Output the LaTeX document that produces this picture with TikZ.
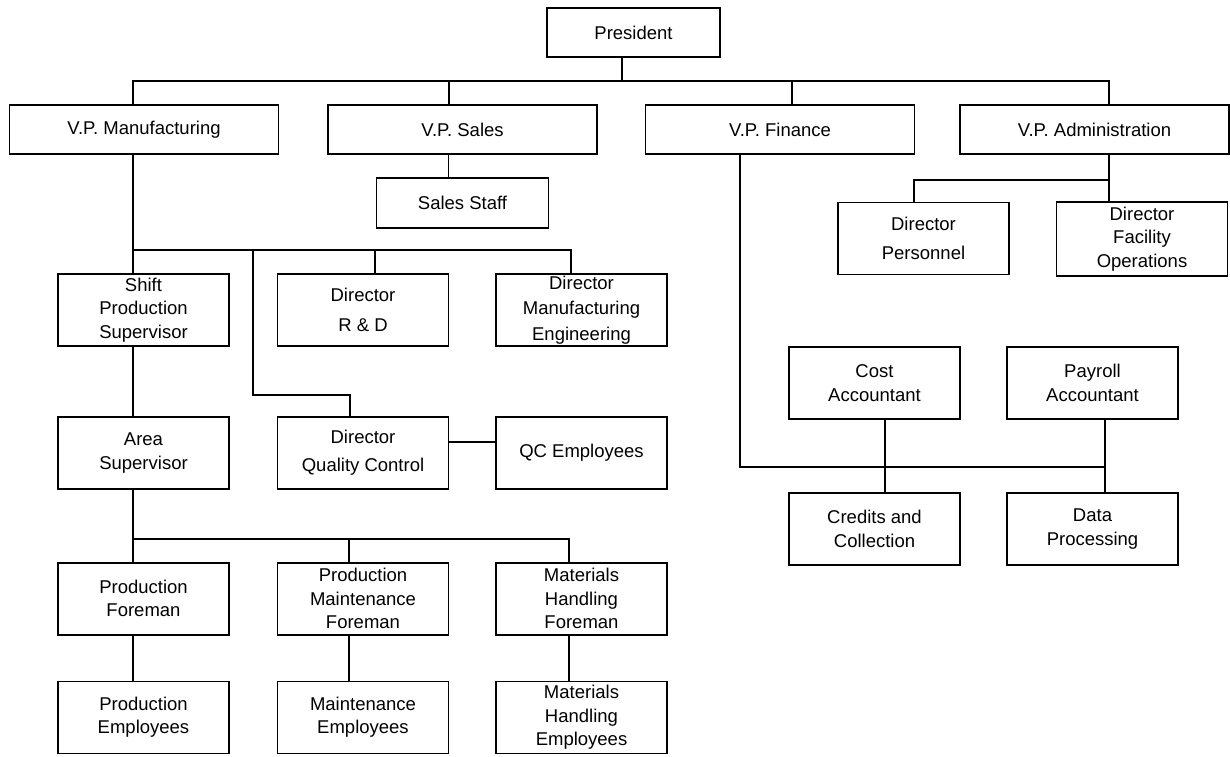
\documentclass[tikz,border=0pt]{standalone}
\usepackage{fontspec}
\setmainfont{Liberation Sans}
\usetikzlibrary{positioning}

\begin{document}
\begin{tikzpicture}[
		x=1pt, y=-1pt,
		node distance=69pt,
		orgbox/.style={rectangle, draw, line width=1.8pt, minimum width=171pt,
			minimum height=72pt, inner sep=0pt, align=center,
			font=\fontsize{18.5}{23.5}\selectfont},
		vpbox/.style={orgbox, minimum width=269pt, minimum height=49pt},
		link/.style={line width=1.8pt}
	]
		\useasboundingbox (0,0) rectangle (1230,756);
		\node[vpbox, minimum width=173pt] (pres) at (633.5,32.5) {President};
		\node[vpbox] (vpman) at (144,129.5) {V.P. Manufacturing};
		\node[vpbox] (vpsal) at (462.5,129.5) {V.P. Sales};
		\node[vpbox] (vpfin) at (780,129.5) {V.P. Finance};
		\node[vpbox] (vpadm) at (1094.5,129.5) {V.P. Administration};
		\node[orgbox, minimum width=172pt, minimum height=50pt, below=22pt of vpsal] (sales) {Sales Staff};
		
		\node[orgbox] (shift) at (143.5,310) {Shift\\Production\\Supervisor};
		\node[orgbox] (dirrd) at (363,310) {Director\\[7pt]R \& D};
		\node[orgbox] (direng) at (581.5,310) {Director\\[2pt]Manufacturing\\[2pt]Engineering};
		\node[orgbox, below=of shift] (area) {Area\\Supervisor};
		\node[orgbox, below=of dirrd] (dirqc) {Director\\[5pt]Quality Control};
		\node[orgbox, below=of direng] (qcemp) {QC Employees};
		\node[orgbox, below=72pt of area] (prodfor) {Production\\Foreman};
		\node[orgbox, below=72pt of dirqc] (maintfor) {Production\\Maintenance\\Foreman};
		\node[orgbox, below=72pt of qcemp] (matfor) {Materials\\Handling\\Foreman};
		\node[orgbox, below=45pt of prodfor] (prodemp) {Production\\Employees};
		\node[orgbox, below=45pt of maintfor] (maintemp) {Maintenance\\Employees};
		\node[orgbox, below=45pt of matfor] (matemp) {Materials\\Handling\\Employees};
		
		\node[orgbox] (dirper) at (923.5,238.5) {Director\\[5pt]Personnel};
		\node[orgbox, minimum height=74pt] (dirfac) at (1142,239) {Director\\Facility\\Operations};
		\node[orgbox] (cost) at (874.5,383) {Cost\\Accountant};
		\node[orgbox] (payroll) at (1092.5,383) {Payroll\\Accountant};
		\node[orgbox, below=72pt of cost] (credits) {Credits and\\Collection};
		\node[orgbox, below=72pt of payroll] (datap) {Data\\Processing};
		
		\draw[link] ([xshift=-11.5pt]pres.south) -- ++(0,23) -| ([xshift=-11pt]vpman.north);
		\draw[link] ([xshift=-11.5pt]pres.south) -- ++(0,23) -| ([xshift=-13.5pt]vpsal.north);
		\draw[link] ([xshift=-11.5pt]pres.south) -- ++(0,23) -| ([xshift=12pt]vpfin.north);
		\draw[link] ([xshift=-11.5pt]pres.south) -- ++(0,23) -| ([xshift=14.5pt]vpadm.north);
		\draw[link] ([xshift=-14pt]vpsal.south) -- ([xshift=-14pt]sales.north);
		
		\draw[link] ([xshift=-11pt]vpman.south) -- ([xshift=-10.5pt]shift.north);
		\draw[link] ([xshift=-11pt]vpman.south) -- ++(0,95) -| ([xshift=12pt]dirrd.north);
		\draw[link] ([xshift=-11pt]vpman.south) -- ++(0,95) -| ([xshift=-10.5pt]direng.north);
		\draw[link] ([xshift=-11pt]vpman.south) -- ++(0,95) -| ++(120,145) -| ([xshift=-13pt]dirqc.north);
		\draw[link] ([xshift=-10.5pt]shift.south) -- ([xshift=-10.5pt]area.north);
		\draw[link] ([yshift=11pt]dirqc.east) -- ([yshift=11pt]qcemp.west);
		\draw[link] ([xshift=-10.5pt]area.south) -- ([xshift=-10.5pt]prodfor.north);
		\draw[link] ([xshift=-10.5pt]area.south) -- ++(0,49) -| ([xshift=-14pt]maintfor.north);
		\draw[link] ([xshift=-10.5pt]area.south) -- ++(0,49) -| ([xshift=-12.5pt]matfor.north);
		\draw[link] ([xshift=-10.5pt]prodfor.south) -- ([xshift=-10.5pt]prodemp.north);
		\draw[link] ([xshift=-14pt]maintfor.south) -- ([xshift=-14pt]maintemp.north);
		\draw[link] ([xshift=-12.5pt]matfor.south) -- ([xshift=-12.5pt]matemp.north);
		
		\draw[link] ([xshift=14.5pt]vpadm.south) -- ++(0,25) -| ([xshift=-9.5pt]dirper.north);
		\draw[link] ([xshift=14.5pt]vpadm.south) -- ([xshift=-33pt]dirfac.north);
		\draw[link] ([xshift=-40pt]vpfin.south) -- ++(0,312) -| ([xshift=12.5pt]datap.north);
		\draw[link] ([xshift=10.5pt]cost.south) -- ([xshift=10.5pt]credits.north);
		\draw[link] ([xshift=12.5pt]payroll.south) -- ([xshift=12.5pt]datap.north);
	\end{tikzpicture}
\end{document}
